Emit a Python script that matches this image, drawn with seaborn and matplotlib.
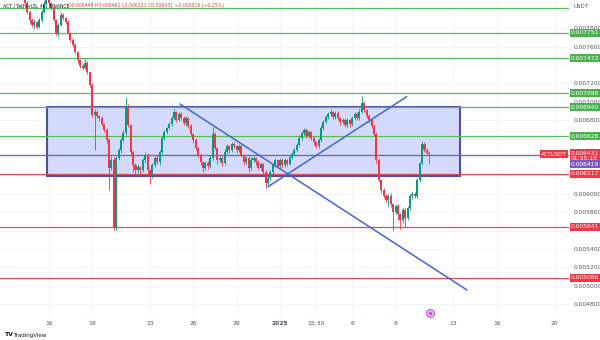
import matplotlib
matplotlib.use("Agg")
import matplotlib.pyplot as plt
import matplotlib.transforms as mtransforms
from matplotlib.patches import Rectangle
import numpy as np
import pandas as pd
import seaborn as sns

# ACT / USDT 4h candles, prices in micro-USDT. First bar opens 14 Dec 00:00,
# time is counted in days from 16 Dec 00:00.
FIRST_OPEN = 8300
START_DAY = -2.0
BAR_DAYS = 1 / 6

closes = [
    8270, 8160, 8075, 7977, 7890, 7836, 7868, 7814, 7890, 7977,
    8064, 8130, 8075, 8021, 7890, 7749, 7836, 7945, 7912, 7868,
    7749, 7673, 7618, 7542, 7455, 7390, 7368, 7423, 7325, 7183,
    6858, 6890, 6847, 6825, 6760, 6695, 6586, 6281, 6368, 5629,
    6390, 6477, 6586, 6662, 6955, 6749, 6455, 6314, 6260, 6292,
    6260, 6368, 6423, 6260, 6205, 6314, 6390, 6347, 6455, 6608,
    6673, 6716, 6760, 6825, 6890, 6803, 6868, 6825, 6770, 6825,
    6738, 6651, 6586, 6499, 6423, 6347, 6281, 6336, 6303, 6390,
    6651, 6499, 6368, 6390, 6336, 6455, 6521, 6477, 6543, 6521,
    6477, 6521, 6423, 6347, 6390, 6281, 6368, 6390, 6347, 6281,
    6325, 6238, 6118, 6173, 6238, 6314, 6368, 6303, 6368, 6314,
    6368, 6325, 6401, 6434, 6477, 6531, 6608, 6662, 6695, 6629,
    6673, 6608, 6564, 6521, 6586, 6716, 6781, 6836, 6868, 6890,
    6836, 6879, 6825, 6781, 6803, 6749, 6803, 6760, 6825, 6868,
    6825, 6890, 6988, 6912, 6847, 6803, 6738, 6651, 6368, 6151,
    6042, 5977, 5934, 5977, 5890, 5803, 5868, 5781, 5716, 5825,
    5738, 5846, 5977, 5999, 5977, 6151, 6336, 6543, 6477, 6448,
    6431,
]
upper_wicks = [
    30, 40, 20, 25, 15, 20, 30, 15, 20, 25,
    30, 40, 20, 15, 20, 10, 25, 35, 20, 15,
    20, 15, 25, 20, 15, 10, 20, 40, 20, 15,
    20, 30, 25, 15, 20, 15, 20, 25, 40, 30,
    20, 25, 20, 30, 100, 20, 15, 20, 25, 30,
    15, 25, 30, 20, 15, 25, 20, 30, 20, 25,
    20, 15, 25, 20, 30, 15, 25, 20, 20, 25,
    15, 20, 15, 20, 15, 20, 15, 25, 20, 30,
    75, 20, 15, 25, 20, 30, 20, 15, 25, 20,
    15, 25, 20, 15, 25, 20, 30, 20, 15, 20,
    25, 15, 20, 30, 20, 25, 20, 15, 25, 20,
    20, 15, 25, 20, 25, 20, 30, 20, 25, 20,
    25, 15, 20, 15, 25, 30, 20, 25, 20, 30,
    15, 25, 20, 15, 25, 20, 25, 15, 20, 25,
    20, 30, 76, 20, 15, 20, 15, 20, 25, 20,
    15, 20, 25, 20, 30, 15, 25, 20, 15, 30,
    20, 25, 20, 30, 25, 20, 15, 30, 25, 20,
    13,
]
lower_wicks = [
    20, 15, 25, 20, 30, 25, 40, 20, 15, 20,
    15, 20, 25, 20, 15, 20, 30, 15, 25, 20,
    15, 20, 25, 20, 30, 20, 25, 15, 20, 25,
    20, 380, 20, 30, 25, 20, 30, 240, 25, 20,
    25, 20, 30, 20, 25, 20, 30, 80, 40, 30,
    60, 25, 30, 40, 100, 30, 25, 20, 30, 25,
    20, 25, 15, 20, 25, 20, 15, 25, 20, 30,
    20, 25, 30, 20, 25, 30, 40, 25, 30, 20,
    20, 25, 40, 25, 30, 20, 25, 30, 20, 25,
    30, 20, 25, 30, 20, 40, 25, 20, 30, 25,
    20, 30, 55, 25, 20, 30, 20, 25, 20, 30,
    25, 20, 15, 20, 25, 20, 15, 20, 25, 20,
    20, 25, 30, 25, 20, 20, 25, 15, 20, 25,
    20, 25, 20, 30, 20, 25, 20, 30, 25, 20,
    25, 20, 15, 25, 20, 30, 25, 20, 30, 25,
    30, 25, 20, 77, 30, 210, 25, 60, 98, 30,
    100, 25, 20, 30, 25, 20, 25, 20, 25, 30,
    110,
]

# horizontal levels
green_levels = [0.007751, 0.007472, 0.007096, 0.006940, 0.006628]
top_level = 0.008020
red_levels = [0.006217, 0.005641, 0.005086]
purple_level = 0.006419
last_price = 0.006431

# range box and trend lines (day, price anchors)
zone_days = [-0.125, 28.46]
zone_prices = [0.006198, 0.006940]
fall_days = [9.08, 28.94]
fall_prices = [0.006977, 0.004955]
rise_days = [15.17, 24.77]
rise_prices = [0.006078, 0.007057]

date_ticks = [0, 3, 7, 10, 13, 16, 18.5, 21, 24, 28, 31, 35]
date_labels = ["16", "19", "23", "26", "29", "2025", "15:30", "6", "9", "13", "16", "20"]
price_ticks = [0.0078, 0.0076, 0.0072, 0.0070, 0.0068, 0.0060, 0.0058,
               0.0054, 0.0052, 0.0050, 0.0048]

UP = "#089981"
DOWN = "#f23645"
GREEN_LINE = "#5cb860"
RED_LINE = "#e8445a"
PURPLE = "#7e57c2"
TREND = "#4466d4"

sns.set_theme(style="white")
plt.rcParams["font.family"] = ["DejaVu Sans"]

n = len(closes)
opens = [FIRST_OPEN] + closes[:-1]
df = pd.DataFrame({
    "day": START_DAY + np.arange(n) * BAR_DAYS,
    "open": np.array(opens) / 1e6,
    "close": np.array(closes) / 1e6,
})
df["high"] = (np.maximum(opens, closes) + np.array(upper_wicks)) / 1e6
df["low"] = (np.minimum(opens, closes) - np.array(lower_wicks)) / 1e6
df["color"] = np.where(df["close"] >= df["open"], UP, DOWN)

fig = plt.figure(figsize=(6, 3.4), dpi=100)
ax = fig.add_axes([0.0, 1 - 316 / 340, 569 / 600, 316 / 340])
ax.set_facecolor("white")
ax.set_xlim(-3.377, 36.0)
ax.set_ylim(0.0046727, 0.0081076)

# faint grid
for d in date_ticks:
    ax.axvline(d, color="#f0f3fa", lw=0.7, zorder=0)
for p in np.arange(0.0048, 0.0081, 0.0002):
    ax.axhline(p, color="#f0f3fa", lw=0.7, zorder=0)

# range box
ax.add_patch(Rectangle((zone_days[0], zone_prices[0]),
                       zone_days[1] - zone_days[0], zone_prices[1] - zone_prices[0],
                       facecolor="#d3dafb", edgecolor="#4f4fa6", lw=1.5, zorder=1))

# horizontal levels
for lv in green_levels + [top_level]:
    ax.axhline(lv, color=GREEN_LINE, lw=0.9, zorder=2)
for lv in red_levels:
    ax.axhline(lv, color=RED_LINE, lw=0.9, zorder=2)
ax.axhline(purple_level, color=PURPLE, lw=0.9, zorder=2)

# candles
ax.vlines(df["day"], df["low"], df["high"], colors=df["color"], lw=0.6, zorder=4)
body_low = np.minimum(df["open"], df["close"])
body_h = np.maximum(np.abs(df["close"] - df["open"]), 0.000004)
ax.bar(df["day"], body_h, bottom=body_low, width=0.14, color=df["color"],
       linewidth=0, zorder=4)

# trend lines
sns.lineplot(x=fall_days, y=fall_prices, ax=ax, color=TREND, lw=1.1, zorder=5)
sns.lineplot(x=rise_days, y=rise_prices, ax=ax, color=TREND, lw=1.1, zorder=5)

# axes cosmetics
for s in ax.spines.values():
    s.set_visible(False)
ax.set_xlabel("")
ax.set_ylabel("")
ax.set_xticks(date_ticks)
ax.set_xticklabels(date_labels, fontsize=4.3, color="#50535e")
for lbl in ax.get_xticklabels():
    if lbl.get_text() == "2025":
        lbl.set_fontweight("bold")
ax.tick_params(axis="x", length=0, pad=3.5)
ax.yaxis.tick_right()
ax.set_yticks(price_ticks)
ax.set_yticklabels([f"{p:.6f}" for p in price_ticks], fontsize=4.3, color="#50535e")
ax.tick_params(axis="y", length=0, pad=3)

# price-scale labels
tr = mtransforms.blended_transform_factory(ax.transAxes, ax.transData)
lab_x = 1 + 2 / 569


def scale_label(y, text, color):
    ax.text(lab_x, y, text, transform=tr, fontsize=4.3, color="white",
            ha="left", va="center", zorder=10, clip_on=False,
            bbox=dict(boxstyle="square,pad=0.25", fc=color, ec="none"))


for lv in green_levels:
    scale_label(lv, f"{lv:.6f}", "#4caf50")
for lv in red_levels:
    scale_label(lv, f"{lv:.6f}", DOWN)
scale_label(0.006411, f"{last_price:.6f}\n01:35:18", DOWN)
scale_label(0.006322, f"{purple_level:.6f}", PURPLE)
ax.text(1 - 2 / 569, last_price, "ACTUSDT", transform=tr, fontsize=4.0, color="white",
        ha="right", va="center", zorder=10,
        bbox=dict(boxstyle="square,pad=0.25", fc=DOWN, ec="none"))

fig.text(573 / 600, 1 - 6 / 340, "USDT", fontsize=4.0, color="#50535e", va="center")

# event marker on the time axis
ax.plot([26.38], [0.004705], marker="o", ms=5.5, mfc="#fbeafd", mec="#c553d6",
        mew=0.9, zorder=6, clip_on=False)
ax.plot([26.38], [0.004705], marker="P", ms=2.2, color="#c553d6", zorder=7, clip_on=False)

# legend line
fig.text(3 / 600, 1 - 5.5 / 340, "ACT / TetherUS, 4h, BINANCE", fontsize=3.3,
         color="#131722", va="center")
fig.text(68 / 600, 1 - 5.5 / 340,
         "O0.006448 H0.006461 L0.006321 C0.006431 \u22120.000016 (\u22120.25%)",
         fontsize=3.3, color=DOWN, va="center")

# branding
fig.text(4 / 600, 1 - 335 / 340, "TV", fontsize=4.5, fontweight="bold",
         color="#131722", va="center")
fig.text(13 / 600, 1 - 335 / 340, "TradingView", fontsize=4.0, color="#131722",
         va="center")

fig.savefig("out.png", dpi=100, facecolor="white")
